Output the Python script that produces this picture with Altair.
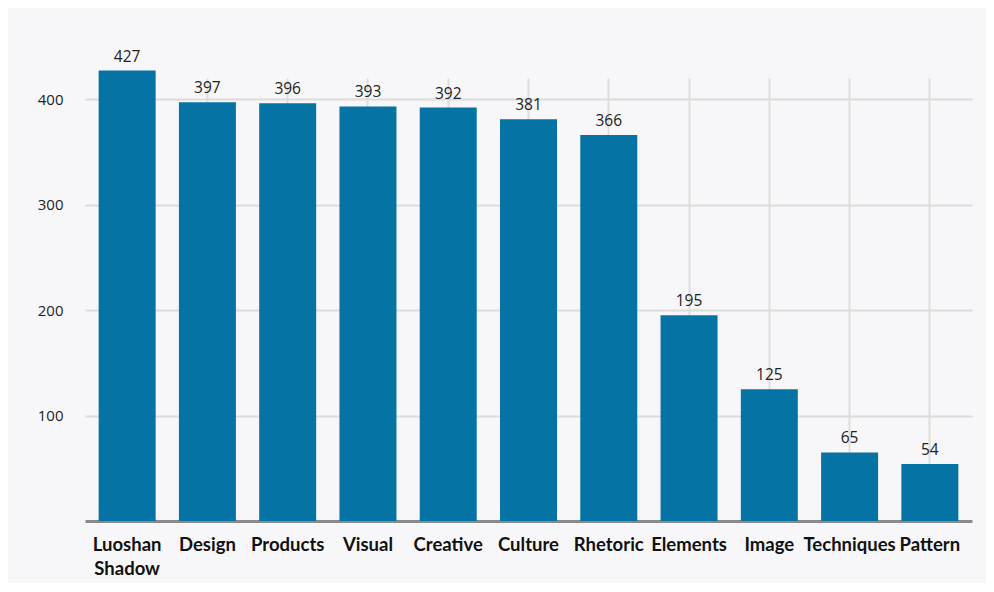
import altair as alt
import pandas as pd

categories = ["Luoshan Shadow", "Design", "Products", "Visual", "Creative", "Culture",
              "Rhetoric", "Elements", "Image", "Techniques", "Pattern"]
counts = [427, 397, 396, 393, 392, 381, 366, 195, 125, 65, 54]
y_ticks = [100, 200, 300, 400]

df = pd.DataFrame({"term": categories, "count": counts})

x = alt.X("term:N", sort=categories, title=None,
          scale=alt.Scale(paddingInner=0.29, paddingOuter=0.17),
          axis=alt.Axis(labelAngle=0, labelFont="Lato", labelFontWeight="bold",
                        labelFontSize=18.5, labelColor="#111111", labelPadding=14,
                        labelLineHeight=24, labelExpr="split(datum.label, ' ')",
                        ticks=False, domainColor="#8a8a8a", domainWidth=3,
                        grid=True, gridColor="#dddddd", gridWidth=2))
y = alt.Y("count:Q", title=None,
          scale=alt.Scale(domain=[0, 420], nice=False),
          axis=alt.Axis(values=y_ticks, domain=False, ticks=False, labelPadding=22,
                        labelFont="Open Sans", labelFontSize=15, labelColor="#222222",
                        gridColor="#dcdcdc", gridWidth=2))

bars = alt.Chart(df).mark_bar(color="#0673a5", clip=False).encode(x=x, y=y)
text = alt.Chart(df).mark_text(baseline="bottom", dy=-6, font="Open Sans",
                               fontSize=15.5, color="#222222").encode(
    x=alt.X("term:N", sort=categories), y="count:Q", text="count:Q")

chart = (bars + text).properties(
    width=887, height=443,
    background="#f7f7f9",
    autosize=alt.AutoSizeParams(type="none"),
    padding={"left": 77, "top": 70, "right": 14, "bottom": 62},
).configure_view(stroke=None)

chart.save("out.html", embed_options={"renderer": "svg", "actions": False})
